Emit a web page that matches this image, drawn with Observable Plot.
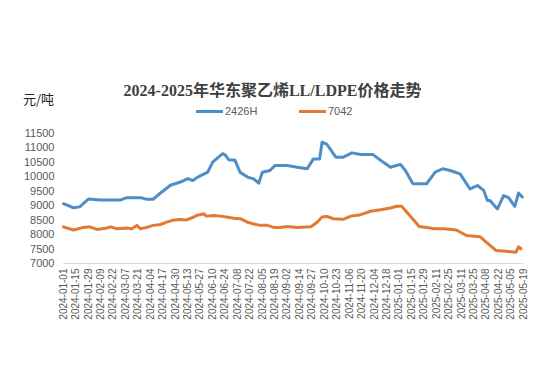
<!DOCTYPE html>
<html>
<head>
<meta charset="utf-8">
<script src="https://cdn.jsdelivr.net/npm/d3@7"></script>
<script src="https://cdn.jsdelivr.net/npm/@observablehq/plot@0.6"></script>
<style>
  html, body { margin: 0; padding: 0; background: #fff; }
  #wrap { position: relative; width: 556px; height: 390px; overflow: hidden; font-family: "Liberation Sans", Arial, sans-serif; }
  #title { position: absolute; left: 0; width: 545px; top: 77px; text-align: center; font: bold 16px "Liberation Serif", "Noto Sans CJK SC", serif; color: #404040; }
  #unit { position: absolute; left: 23px; top: 89px; font: 13px "Noto Sans CJK SC", sans-serif; color: #222; }
  .leg { position: absolute; top: 105px; font-size: 11px; color: #595959; display: flex; align-items: center; }
  .leg span.sw { display: inline-block; width: 27px; height: 3px; margin-right: 2px; }
  #chart { position: absolute; left: 0; top: 0; }
</style>
</head>
<body>
<div id="wrap">
  <div id="chart"></div>
  <div id="title">2024-2025年华东聚乙烯LL/LDPE价格走势</div>
  <div id="unit">元/吨</div>
  <div class="leg" id="leg1" style="left:196px"></div>
  <div class="leg" id="leg2" style="left:299px"></div>
</div>
<script>
const xLabels = ["2024-01-01","2024-01-15","2024-01-29","2024-02-09","2024-02-22","2024-03-07","2024-03-21","2024-04-04","2024-04-17","2024-04-30","2024-05-13","2024-05-27","2024-06-10","2024-06-24","2024-07-08","2024-07-22","2024-08-05","2024-08-19","2024-09-02","2024-09-14","2024-09-27","2024-10-10","2024-10-23","2024-11-06","2024-11-20","2024-12-04","2024-12-18","2025-01-01","2025-01-15","2025-01-29","2025-02-11","2025-02-25","2025-03-11","2025-03-25","2025-04-08","2025-04-22","2025-05-05","2025-05-19"];
const yTicks = [7000,7500,8000,8500,9000,9500,10000,10500,11000,11500];
const seriesNames = ["2426H","7042"];
const seriesColors = ["#4e8ec8","#e27a33"];

// trading-day index (10 per axis label) and price
const days2426H = [0,8,13,20,30,38,46,51,62,67,72,78,86,94,100,104,108,116,120,128,130,133,138,142,148,153,157,160,166,170,180,188,196,201,206,208,212,219,225,232,239,249,257,263,271,275,281,292,299,305,311,319,327,333,338,341,343,349,354,358,363,366,369];
const price2426H = [9070,8930,8960,9230,9200,9200,9200,9280,9280,9220,9220,9440,9710,9820,9940,9870,9990,10160,10510,10800,10760,10590,10570,10160,9990,9930,9780,10160,10220,10390,10390,10330,10280,10620,10620,11200,11120,10680,10680,10830,10770,10770,10510,10330,10430,10220,9760,9760,10160,10280,10220,10100,9580,9700,9530,9180,9180,8890,9350,9280,8980,9440,9300];

const days7042 = [0,8,16,21,27,35,38,43,51,55,59,62,67,72,78,83,89,94,99,105,107,113,115,121,126,131,137,142,148,153,158,164,169,174,180,188,199,204,208,212,217,225,231,239,247,255,263,268,272,276,282,286,292,298,306,316,324,335,340,348,356,364,366,368];
const price7042 = [8270,8160,8250,8270,8180,8230,8270,8200,8230,8200,8320,8200,8250,8320,8350,8430,8510,8520,8510,8610,8660,8720,8640,8660,8640,8610,8570,8550,8430,8370,8320,8320,8250,8250,8280,8250,8270,8430,8610,8630,8550,8530,8640,8690,8810,8860,8920,8980,8980,8780,8490,8280,8250,8200,8200,8160,7970,7930,7740,7450,7420,7390,7580,7510];

const rows = [
  ...days2426H.map((d, i) => ({day: d, price: price2426H[i], series: seriesNames[0]})),
  ...days7042.map((d, i) => ({day: d, price: price7042[i], series: seriesNames[1]}))
];

const chart = Plot.plot({
  width: 556,
  height: 390,
  marginLeft: 63,
  marginRight: 33,
  marginTop: 133,
  marginBottom: 127,
  style: {fontFamily: "'Liberation Sans', Arial, sans-serif", background: "transparent"},
  x: {domain: [0, (xLabels.length - 1) * 10]},
  y: {domain: [yTicks[0], yTicks[yTicks.length - 1]]},
  color: {domain: seriesNames, range: seriesColors},
  marks: [
    Plot.ruleY([yTicks[0]], {stroke: "#d9d9d9", strokeWidth: 1}),
    Plot.axisY({ticks: yTicks, tickFormat: d3.format("d"), tickSize: 0, tickPadding: 9, fontSize: 11, fill: "#595959", label: null}),
    Plot.axisX({ticks: d3.range(0, xLabels.length * 10, 10), tickFormat: d => xLabels[d / 10], tickRotate: -90, tickSize: 0, tickPadding: 5, fontSize: 10, fill: "#595959", label: null}),
    Plot.line(rows, {x: "day", y: "price", z: "series", stroke: "series", strokeWidth: 3, curve: "linear", strokeLinejoin: "round"})
  ]
});
document.getElementById("chart").appendChild(chart);

[["leg1", 0], ["leg2", 1]].forEach(([id, i]) => {
  const el = document.getElementById(id);
  el.innerHTML = `<span class="sw" style="background:${seriesColors[i]}"></span>${seriesNames[i]}`;
});
</script>
</body>
</html>
